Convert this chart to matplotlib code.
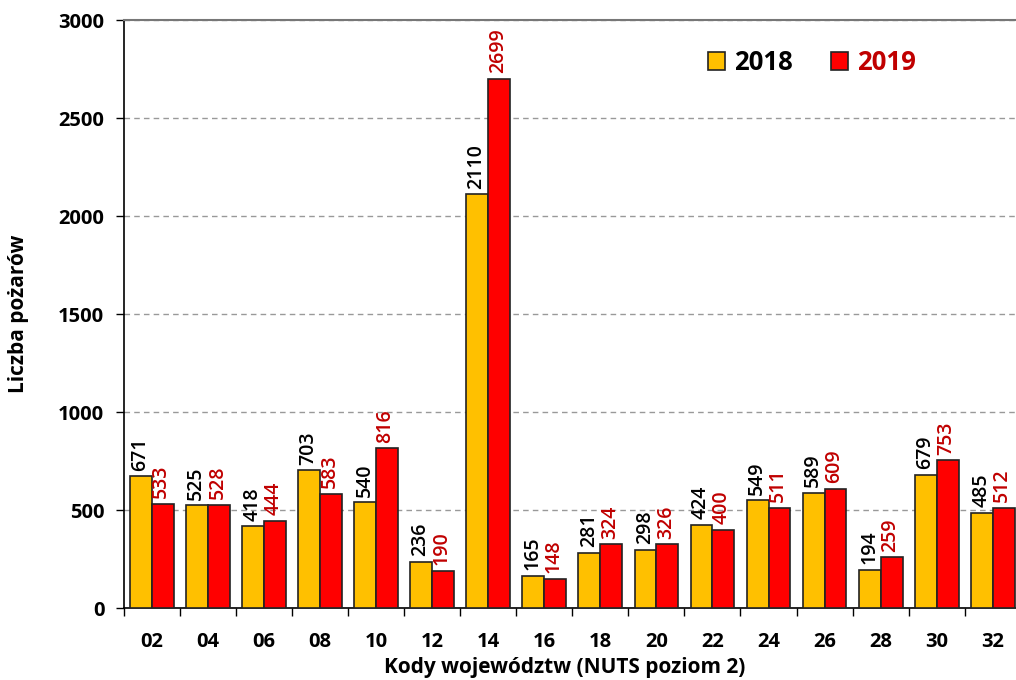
import matplotlib.pyplot as plt
import numpy as np

plt.rcParams['font.family'] = ['Open Sans', 'DejaVu Sans']

codes = ['02', '04', '06', '08', '10', '12', '14', '16', '18', '20', '22', '24', '26', '28', '30', '32']
fires_2018 = [671, 525, 418, 703, 540, 236, 2110, 165, 281, 298, 424, 549, 589, 194, 679, 485]
fires_2019 = [533, 528, 444, 583, 816, 190, 2699, 148, 324, 326, 400, 511, 609, 259, 753, 512]

c18 = '#FFC000'
c19 = '#FF0000'
txt19 = '#C00000'

fig = plt.figure(figsize=(10.16, 6.8), dpi=100)
axw = 897.0
ax = fig.add_axes([123.8 / 1016, 1 - 608 / 680, axw / 1016, 588 / 680])

x = np.arange(len(codes))
w = 0.39
ax.bar(x - w / 2, fires_2018, w, color=c18, edgecolor='#222222', linewidth=1.2, label='2018', zorder=3)
ax.bar(x + w / 2, fires_2019, w, color=c19, edgecolor='#222222', linewidth=1.2, label='2019', zorder=3)

for xi, v in zip(x, fires_2018):
    ax.annotate(str(v), (xi - w / 2, v), xytext=(-0.5, 4), textcoords='offset points',
                rotation=90, ha='center', va='bottom', fontsize=14, color='black',
                fontweight='semibold')
for xi, v in zip(x, fires_2019):
    ax.annotate(str(v), (xi + w / 2, v), xytext=(-1, 4), textcoords='offset points',
                rotation=90, ha='center', va='bottom', fontsize=14, color=txt19,
                fontweight='semibold', annotation_clip=False)

ax.set_xlim(-0.5, len(codes) - 0.5)
ax.set_ylim(0, 3000)
ax.set_yticks(np.arange(0, 3001, 500))
ax.set_xticks(x)
ax.set_xticklabels(codes)
ax.set_xticks(np.arange(-0.5, len(codes), 1), minor=True)
ax.tick_params(axis='x', which='major', length=0, pad=17, labelsize=14.5)
ax.tick_params(axis='x', which='minor', length=6, width=1, direction='out')
ax.tick_params(axis='y', length=6, width=1, direction='out', labelsize=14.5, pad=8)
for lab in ax.get_xticklabels() + ax.get_yticklabels():
    lab.set_fontweight('bold')

ax.yaxis.grid(True, linestyle=(0, (4, 3)), color='#999999', linewidth=1, zorder=0)
ax.spines['right'].set_visible(False)
ax.spines['top'].set_color('#777777')
ax.spines['top'].set_linewidth(1.5)
ax.spines['left'].set_linewidth(1.2)
ax.spines['bottom'].set_linewidth(1.2)

ax.set_ylabel('Liczba pożarów', fontsize=15, fontweight='bold')
ax.set_xlabel('Kody województw (NUTS poziom 2)', fontsize=15, fontweight='bold')
ax.yaxis.set_label_coords(-95 / axw, 0.5)
ax.xaxis.set_label_coords((565 - 123.8) / axw, -49 / 588)

leg = ax.legend(loc='upper left', bbox_to_anchor=(0.626, 0.99), ncol=2, frameon=False,
                fontsize=18.5, handlelength=0.65, handleheight=0.65, handletextpad=0.35,
                columnspacing=1.5)
for t, col in zip(leg.get_texts(), ['black', txt19]):
    t.set_color(col)
    t.set_fontweight('bold')

fig.savefig('out.png', dpi=100)
